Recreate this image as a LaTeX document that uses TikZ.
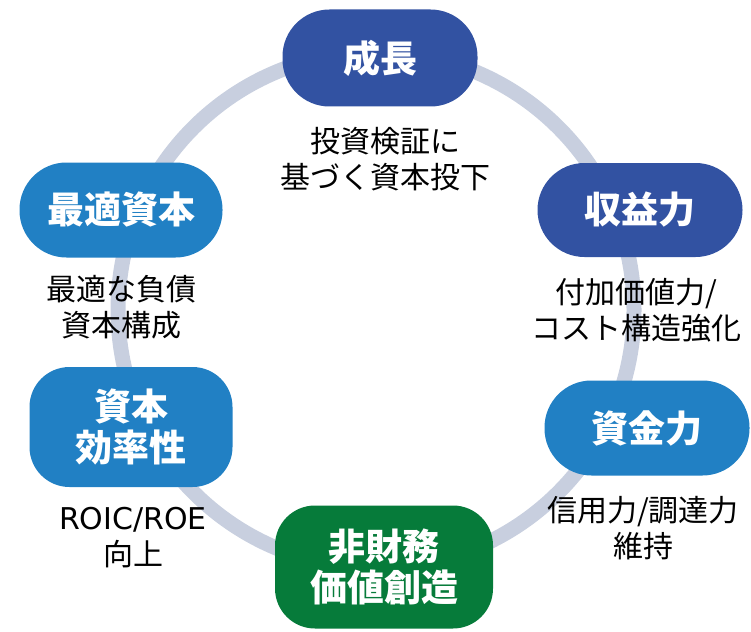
\documentclass[tikz,border=0pt]{standalone}
\usepackage{fontspec}
\setmainfont{Noto Sans CJK JP}
\newfontfamily\latinf{DejaVu Sans}
\definecolor{ringc}{HTML}{C8CFDF}
\definecolor{darkb}{HTML}{3252A2}
\definecolor{medb}{HTML}{2180C4}
\definecolor{grn}{HTML}{067B3A}
\tikzset{
  pill/.style={rectangle, rounded corners=47pt, inner sep=0pt, text=white,
    font=\fontsize{37}{42}\selectfont\bfseries, align=center},
  box2/.style={rectangle, rounded corners=40pt, inner sep=0pt, text=white,
    font=\fontsize{37}{41}\selectfont\bfseries, align=center},
  lbl/.style={inner sep=0pt, align=center, text=black,
    font=\fontsize{30}{36}\selectfont}
}
\begin{document}
\begin{tikzpicture}[x=1pt,y=-1pt]
\useasboundingbox (0,0) rectangle (751,631);
\coordinate (c) at (376,310);
\draw[ringc, line width=15pt] (c) circle[radius=258];
\node[pill, fill=darkb, minimum width=195pt, minimum height=97pt] (grow) at (380,58) {成長};
\node[pill, fill=medb, minimum width=203pt, minimum height=95pt] (opt) at (121,210) {最適資本};
\node[pill, fill=darkb, minimum width=205pt, minimum height=94pt] (prof) at (640,210) {収益力};
\node[box2, fill=medb, minimum width=203pt, minimum height=120pt] (eff) at (131,427) {資本\\効率性};
\node[pill, fill=medb, minimum width=205pt, minimum height=95pt] (fund) at (647,428) {資金力};
\node[box2, fill=grn, minimum width=218pt, minimum height=123pt] (nonfin) at (384,567) {非財務\\価値創造};
\node[lbl] (l1) at (385,159) {投資検証に\\基づく資本投下};
\node[lbl] (l2) at (121,307) {最適な負債\\資本構成};
\node[lbl] (l3) at (636,310) {付加価値力/\\コスト構造強化};
\node[lbl] (l4) at (133,538) {{\latinf ROIC/ROE}\\向上};
\node[lbl] (l5) at (643,528) {信用力/調達力\\維持};
\end{tikzpicture}
\end{document}
